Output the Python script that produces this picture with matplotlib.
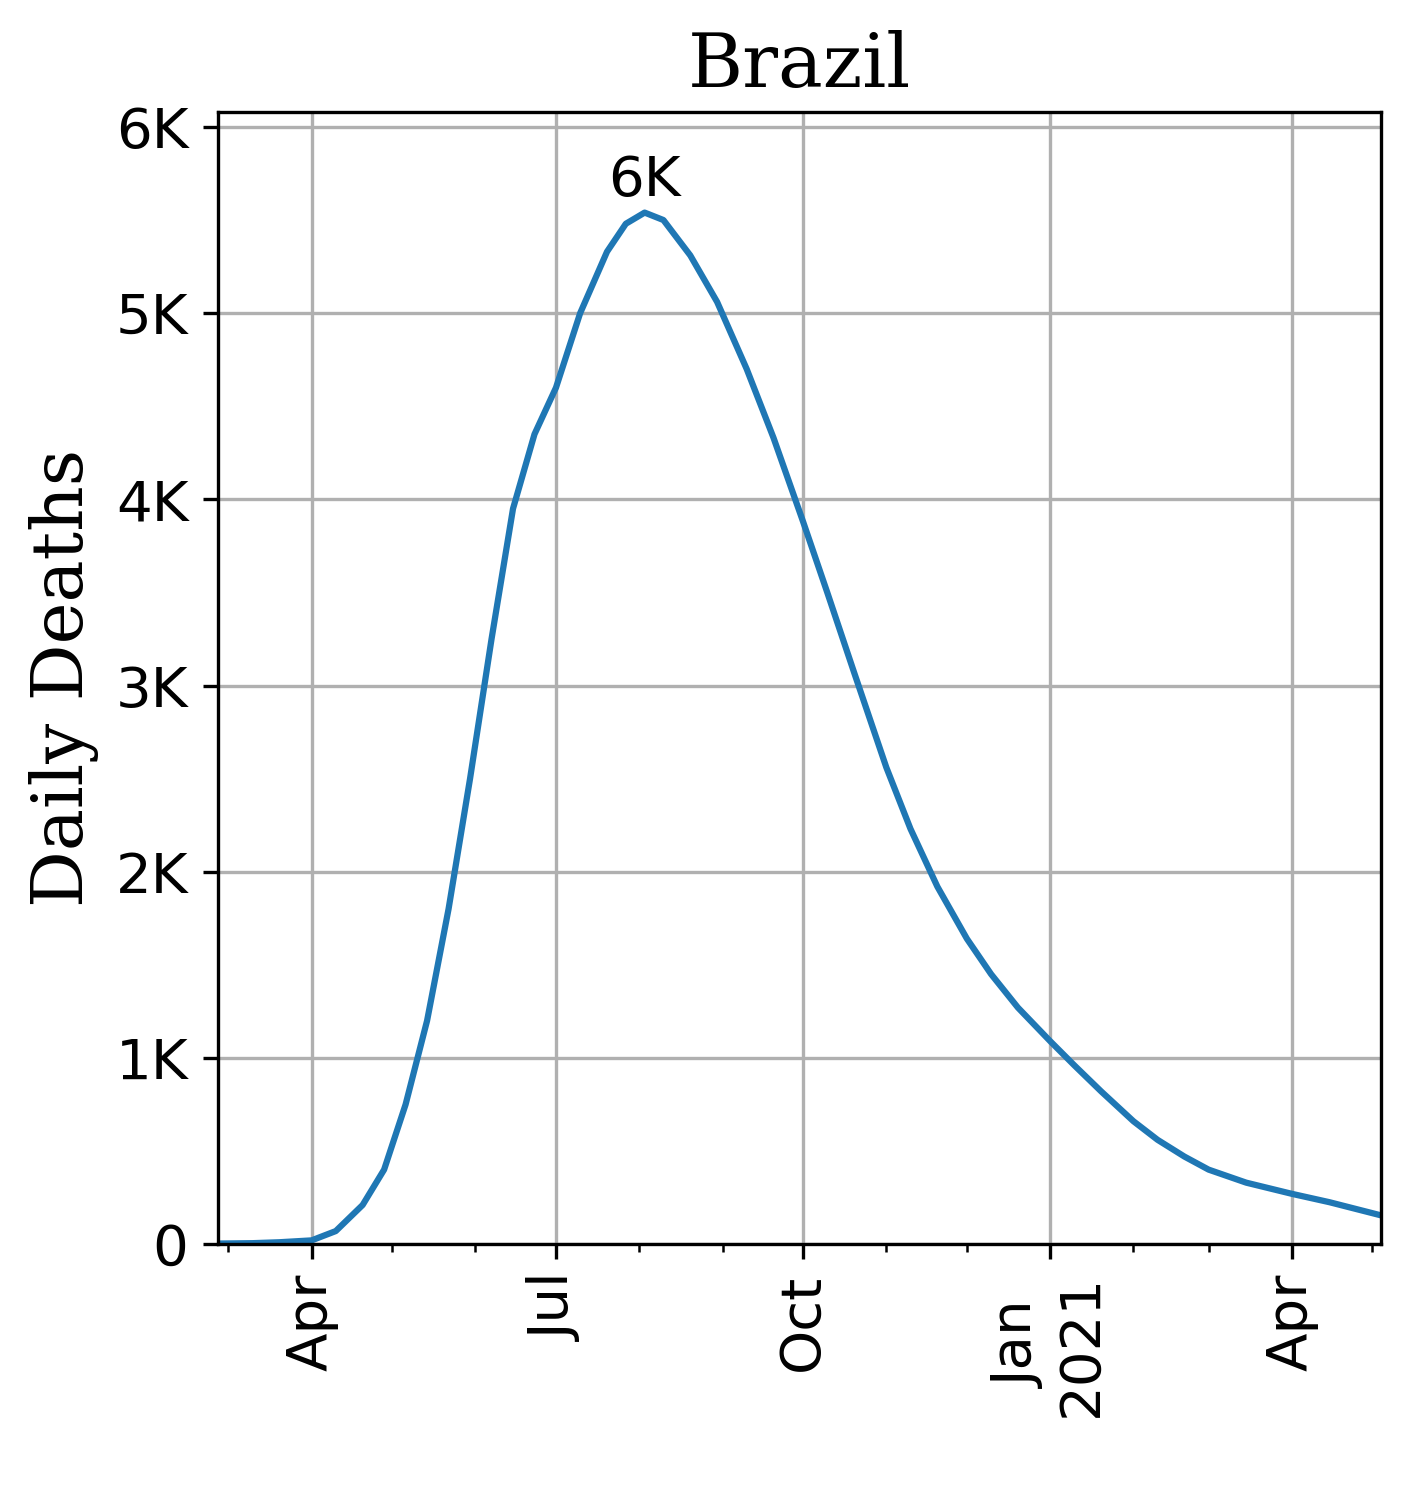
import matplotlib
matplotlib.use("Agg")
import matplotlib.pyplot as plt
import matplotlib.dates as mdates
import pandas as pd
from matplotlib.ticker import FuncFormatter

dates = ["2020-02-26","2020-03-10","2020-03-20","2020-04-01","2020-04-10","2020-04-20","2020-04-28",
         "2020-05-06","2020-05-14","2020-05-22","2020-05-30","2020-06-07","2020-06-15","2020-06-23",
         "2020-07-01","2020-07-10","2020-07-20","2020-07-27","2020-08-03","2020-08-10","2020-08-20",
         "2020-08-30","2020-09-10","2020-09-20","2020-10-01","2020-10-10","2020-10-20","2020-11-01",
         "2020-11-10","2020-11-20","2020-12-01","2020-12-10","2020-12-20","2021-01-01","2021-01-10",
         "2021-01-20","2021-02-01","2021-02-10","2021-02-20","2021-03-01","2021-03-15","2021-04-01",
         "2021-04-15","2021-05-04"]
deaths = [3, 5, 10, 20, 70, 210, 400, 750, 1200, 1800, 2500, 3250, 3950, 4350,
          4600, 5000, 5330, 5480, 5540, 5500, 5310, 5060, 4700, 4330, 3880, 3500, 3070, 2560,
          2230, 1920, 1640, 1450, 1270, 1090, 960, 820, 660, 560, 470, 400, 330, 270, 225, 155]
peak_label = "6K"

d = pd.to_datetime(dates)
fig = plt.figure(figsize=(1413/300, 1508/300), dpi=300)
ax = fig.add_axes([0.154, 0.175, 0.823, 0.7507])
ax.plot(d, deaths, color="#1f77b4", lw=1.5)
ax.set_xlim(d[0], d[-1])
ax.set_ylim(0, 6080)
ax.grid(True, color="#b0b0b0", lw=0.8)
ax.xaxis.set_major_locator(mdates.MonthLocator(bymonth=[1, 4, 7, 10]))
ax.xaxis.set_minor_locator(mdates.MonthLocator())
def fmt(v, p):
    dt = mdates.num2date(v)
    return dt.strftime("%b\n%Y") if dt.month == 1 else dt.strftime("%b")
ax.xaxis.set_major_formatter(FuncFormatter(fmt))
ax.yaxis.set_major_formatter(FuncFormatter(lambda v, p: "0" if v == 0 else f"{v/1000:.0f}K"))
ax.tick_params(labelsize=13.5)
plt.setp(ax.get_xticklabels(), rotation=90)
ax.set_title("Brazil", family="DejaVu Serif", fontsize=18)
ax.set_ylabel("Daily Deaths", family="DejaVu Serif", fontsize=17)
i = deaths.index(max(deaths))
ax.annotate(peak_label, (d[i], deaths[i]), xytext=(0, 1), textcoords="offset points",
            ha="center", va="bottom", fontsize=13.5)
fig.savefig("out.png", dpi=300)
